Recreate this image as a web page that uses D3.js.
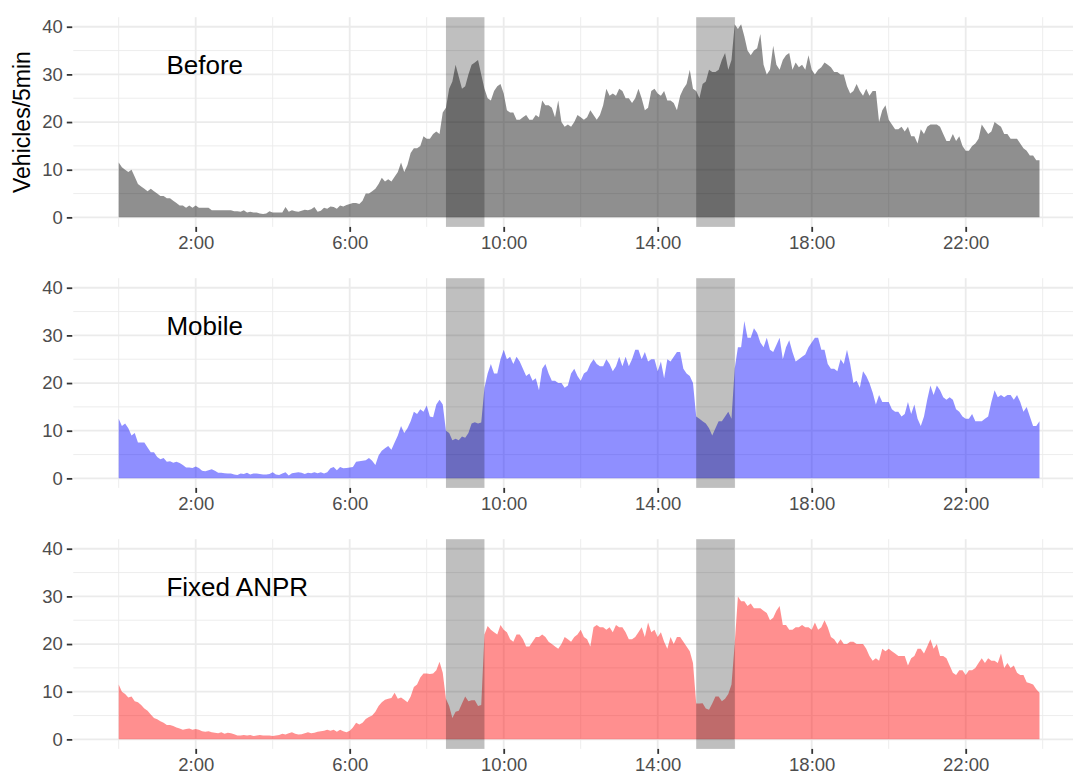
<!DOCTYPE html>
<html lang="en">
<head>
  <meta charset="UTF-8">
  <title>Vehicles per 5 minutes</title>
  <script src="https://d3js.org/d3.v7.min.js"></script>
  <style>
    body {
      margin: 0;
      padding: 0;
      background-color: #fff;
      font-family: "Liberation Sans", Arial, sans-serif;
    }
    svg { display: block; }
  </style>
</head>
<body>
  <svg width="1073" height="774"></svg>
  <script>
    // one value every 5 minutes, starting at 0:00
    const stepMinutes = 5;

    const before = [
      11.5, 10.5, 10, 9.5, 10, 8.5, 7, 6.5, 6, 5.5, 6, 5.5,
      5, 4.5, 4.5, 4, 4, 3.5, 3, 2.5, 2.5, 2, 2.5, 2,
      2.5, 2, 2, 2, 2, 1.5, 1.5, 1.5, 1.5, 1.5, 1.5, 1.5,
      1.3, 1.3, 1.2, 1.5, 1, 1.2, 1, 1, 0.8, 0.7, 0.8, 1.3,
      1, 1, 1, 1, 2.2, 1.2, 1.5, 1.3, 1.2, 1.4, 1.6, 1.5,
      1.7, 2.2, 1.2, 1.4, 2, 1.8, 2.3, 2.2, 1.8, 2.5, 2.3, 2.6,
      2.8, 3, 3, 2.8, 3.5, 5, 5, 5.5, 6, 7, 8.3, 7.5,
      8, 7.5, 8.5, 9.5, 11.5, 9.5, 11, 13.5, 14.5, 14.5, 15, 17,
      16.5, 16.5, 17.5, 18, 17.5, 22, 23, 27, 28.5, 32, 29.5, 27,
      27.5, 30, 32, 32.5, 33, 30, 27, 25, 24.5, 26.5, 27.5, 28,
      26, 22.5, 22, 22, 20.5, 20.5, 21, 21.5, 20.5, 20.5, 21.5, 21,
      24.5, 23.5, 23.5, 23, 21, 24.5, 20, 19, 19.5, 19, 20, 21.5,
      21, 20.5, 21, 22.5, 21.5, 20.5, 21.5, 23.5, 27, 25.5, 26, 25.5,
      27, 26.5, 25, 25, 24, 25, 27, 25, 22.5, 23, 26.5, 27,
      26, 25.5, 26.5, 24.5, 24.5, 24, 22.5, 25.5, 27, 28, 31, 27,
      26.5, 25, 28, 28.5, 31, 30.5, 30.5, 31, 33, 34.5, 31, 33,
      40.5, 39.5, 40.5, 38, 35, 34, 35, 35.5, 38.5, 32, 30, 31,
      36, 32, 31, 33, 34, 34.5, 31, 32.5, 31.5, 32, 31, 34,
      31, 30, 31, 31.5, 32.5, 32, 31.5, 30.5, 30.5, 30, 30, 27.5,
      26, 26.5, 28, 26.5, 25.5, 27, 25.5, 26.5, 26.5, 20, 22.5, 23.5,
      20.5, 19.5, 18.5, 18.5, 19, 18, 19, 17, 17, 15.5, 18.5, 17.5,
      19, 19.5, 19.5, 19.5, 19, 17.5, 16, 16, 17.5, 16, 17, 15,
      14, 14, 15, 15.5, 16.5, 19.5, 18.5, 17.5, 18, 20, 19.5, 19,
      17.5, 17.5, 16.5, 16.5, 16.5, 15.5, 14.5, 14, 13, 13, 12, 12
    ];

    const mobile = [
      12.5, 11, 11.5, 10.5, 9, 9.5, 7.5, 7.5, 7.5, 6.5, 5.5, 5.5,
      4.5, 4, 4.3, 3.5, 3.6, 3.3, 3.5, 3.2, 2.8, 2.3, 2.3, 2.2,
      2.5, 2.2, 1.6, 1.5, 1.7, 1.9, 1.6, 1.2, 1.2, 1.1, 1, 1,
      0.8, 0.7, 1, 0.9, 1.2, 0.8, 1, 1, 0.9, 0.8, 0.8, 0.9,
      1.3, 0.8, 0.7, 1, 1.3, 0.6, 1.1, 1.2, 1.3, 1.2, 0.9, 1.2,
      1.1, 1.3, 1.1, 1.3, 1, 1.3, 2.1, 2.4, 1.7, 2.4, 2.1, 2.2,
      2.3, 2.4, 3.5, 3.6, 3.7, 3.8, 4.3, 3.7, 2.8, 4.8, 5.8, 6.3,
      6.8, 6, 7.5, 9, 11, 9.5, 10.5, 12, 14, 13.5, 14.5, 14,
      15.3, 13, 12.8, 15.5, 16.5, 15.5, 10, 9.5, 8, 8.3, 8, 8.8,
      8.5, 9.5, 11.5, 11.8, 11.5, 11.7, 19, 22, 24, 22, 22, 25,
      27, 25, 25.5, 24, 25.5, 24.5, 23, 21.5, 22, 20.5, 21, 18.5,
      23, 24, 22, 20.5, 20.5, 20, 20, 19, 19.5, 22, 23, 21.5,
      20.5, 22, 22.5, 24, 25, 24, 23.5, 23.5, 25, 24, 22.5, 23.5,
      25.5, 23.5, 25.5, 23.5, 25, 27, 27, 25, 26.5, 24.5, 25, 25,
      22.5, 24.5, 21, 25, 24.5, 25.5, 26.5, 26.5, 23, 22, 21.5, 20,
      13, 12.5, 12, 11.5, 10.5, 9, 10.5, 12, 12, 13, 14, 12.5,
      23, 27.5, 27.5, 33, 29.5, 29.5, 31.5, 30.5, 28.5, 27.5, 29.5, 27,
      26.5, 28, 29.5, 25, 27.5, 29, 26.5, 24.5, 25, 25.5, 26, 27.5,
      28.5, 29.5, 29.5, 27, 27, 24, 23, 23, 22.5, 25, 24, 27,
      24, 20, 20.5, 19, 22.5, 21.5, 20, 18, 15.5, 17.5, 16, 16,
      16, 14.5, 14, 14, 13, 13.5, 16, 13.5, 15.5, 12.5, 11, 13,
      16.5, 19.5, 17.5, 19.5, 18.5, 17, 16.5, 17, 16.5, 14.5, 14, 13,
      12.5, 12.5, 13.5, 12, 12, 12, 12.5, 13, 16, 18.5, 17, 17.5,
      17, 17.5, 17.5, 16.5, 17.5, 16, 14, 15, 13, 11, 11, 12
    ];

    const fixedAnpr = [
      11.5, 10, 9.5, 8.8, 9, 8, 7.8, 7.2, 6.5, 6, 5.2, 4.5,
      4.2, 3.8, 3.5, 3, 3, 2.8, 2.5, 2.3, 2, 2.2, 2.3, 2,
      2.2, 2, 1.7, 1.6, 1.7, 1.5, 1.4, 1.3, 1.5, 1.2, 1.4, 1.3,
      1.1, 0.8, 0.8, 0.9, 0.8, 0.9, 0.7, 0.8, 0.9, 0.8, 0.8, 0.8,
      0.7, 0.8, 0.9, 1.2, 1, 1.3, 1.5, 1.2, 1, 1.1, 1.3, 1.5,
      1.3, 1.4, 1.6, 1.7, 1.8, 2, 1.8, 2, 1.6, 2, 1.7, 1.5,
      1.8, 2.5, 3.5, 3.1, 3.5, 4.3, 4.7, 5, 5.8, 7, 7.8, 8.3,
      8.5, 8.7, 9.8, 8.5, 8.8, 8.3, 7.8, 9, 11, 11.5, 13, 13.8,
      13.8, 13.7, 13.8, 14.5, 16.3, 14, 8.5, 7, 4.5, 5.8, 6, 7.5,
      9, 8, 8.2, 8.2, 7, 7.2, 22, 23.8, 23, 22.5, 22, 24,
      23, 22.5, 21, 20.5, 22, 22, 21, 19.5, 19.5, 20.5, 21.5, 21.5,
      22, 21.5, 20.5, 20, 19.5, 19, 20, 21.5, 21, 20.5, 21.5, 22,
      23, 21.5, 21, 19.5, 23.5, 24, 23.5, 23.5, 23, 23.5, 22.5, 24,
      23.5, 23.5, 22.5, 21, 21, 21.5, 22.5, 23.5, 21.5, 24.5, 22.5, 23,
      21.5, 22.5, 20.5, 19, 21.5, 20, 21.5, 21.5, 20.5, 19.5, 18.5, 16,
      7.5, 7.5, 7.6, 6.5, 6.2, 7.5, 9, 9, 8, 8.5, 9.5, 11.5,
      20, 30, 29, 29, 28, 28.5, 27.5, 27.5, 27.5, 27, 26.5, 25,
      25.5, 27, 28, 24, 24, 23, 23, 23.5, 23.5, 24, 23.5, 23.5,
      23, 24.5, 23, 23.5, 25, 23.5, 21.5, 21, 20, 21, 20, 20,
      20.5, 20.5, 20, 20, 20, 19, 17.5, 16.5, 17, 16.5, 19, 18.5,
      19, 18.5, 18, 17.5, 17.5, 17.5, 15.5, 17, 17.5, 19, 19, 18,
      19.5, 21, 19, 20, 17.5, 17.5, 17, 15.5, 14, 13.5, 14.5, 14.5,
      13.5, 14.5, 14.5, 15, 16, 17, 16, 17, 16.5, 16.5, 16, 18,
      15, 16, 15, 15.5, 14, 13.5, 13.5, 12, 11.8, 11.5, 10.5, 9.8
    ];

    const panelNames = ["Before", "Mobile", "Fixed ANPR"];
    const panelSeries = [before, mobile, fixedAnpr];
    const panelColors = ["#000000", "#0000ff", "#ff0000"];

    // shaded windows, in hours
    const windows = [[8.5, 9.5], [15, 16]];

    const xTickHours = [2, 6, 10, 14, 18, 22];
    const xTickLabels = ["2:00", "6:00", "10:00", "14:00", "18:00", "22:00"];
    const xMinorHours = [0, 4, 8, 12, 16, 20, 24];
    const yTicks = [0, 10, 20, 30, 40];
    const yMinor = [5, 15, 25, 35];

    const panelLeft = 73.3;
    const panelRight = 1086;
    const panelHeight = 209.7;
    const panelTops = [17.2, 278.2, 539.2];

    const svg = d3.select("svg");

    const x = d3.scaleLinear().domain([0, 24]).range([118.7, 1042.7]);

    panelSeries.forEach((series, i) => {
      const top = panelTops[i];
      const bottom = top + panelHeight;
      const y = d3.scaleLinear().domain([-2, 42]).range([bottom, top]);
      const data = series.map((v, k) => ({ t: k * stepMinutes / 60, v }));

      const g = svg.append("g");

      // minor grid
      g.selectAll(".hminor").data(yMinor).enter().append("line")
        .attr("x1", panelLeft).attr("x2", panelRight)
        .attr("y1", d => y(d)).attr("y2", d => y(d))
        .attr("stroke", "#ebebeb").attr("stroke-width", 0.9);
      g.selectAll(".vminor").data(xMinorHours).enter().append("line")
        .attr("x1", d => x(d)).attr("x2", d => x(d))
        .attr("y1", top).attr("y2", bottom)
        .attr("stroke", "#ebebeb").attr("stroke-width", 0.9);

      // major grid
      g.selectAll(".hmajor").data(yTicks).enter().append("line")
        .attr("x1", panelLeft).attr("x2", panelRight)
        .attr("y1", d => y(d)).attr("y2", d => y(d))
        .attr("stroke", "#ebebeb").attr("stroke-width", 1.8);
      g.selectAll(".vmajor").data(xTickHours).enter().append("line")
        .attr("x1", d => x(d)).attr("x2", d => x(d))
        .attr("y1", top).attr("y2", bottom)
        .attr("stroke", "#ebebeb").attr("stroke-width", 1.8);

      const area = d3.area()
        .x(d => x(d.t))
        .y0(y(0))
        .y1(d => y(d.v));

      g.append("path")
        .datum(data)
        .attr("d", area)
        .attr("fill", panelColors[i])
        .attr("fill-opacity", 0.44);

      g.selectAll(".window").data(windows).enter().append("rect")
        .attr("x", d => x(d[0]))
        .attr("width", d => x(d[1]) - x(d[0]))
        .attr("y", top)
        .attr("height", panelHeight)
        .attr("fill", "#000")
        .attr("fill-opacity", 0.25);

      g.append("text")
        .attr("x", x(1.24))
        .attr("y", y(32))
        .attr("dy", "0.36em")
        .attr("font-size", 26)
        .attr("fill", "#000")
        .text(panelNames[i]);

      // axes
      const xAxis = d3.axisBottom(x)
        .tickValues(xTickHours)
        .tickFormat((d, k) => xTickLabels[k])
        .tickSize(5)
        .tickPadding(4);
      const xa = svg.append("g")
        .attr("transform", `translate(0,${bottom})`)
        .call(xAxis);

      const yAxis = d3.axisLeft(y)
        .tickValues(yTicks)
        .tickSize(5.5)
        .tickPadding(4);
      const ya = svg.append("g")
        .attr("transform", `translate(72.3,0)`)
        .call(yAxis);

      [xa, ya].forEach(a => {
        a.select(".domain").remove();
        a.selectAll(".tick line").attr("stroke", "#333333").attr("stroke-width", 1.8);
        a.selectAll(".tick text")
          .attr("fill", "#4d4d4d")
          .attr("font-size", 18.5)
          .attr("font-family", "'Liberation Sans', Arial, sans-serif");
      });

      if (i === 0) {
        svg.append("text")
          .attr("transform", `translate(22,${(top + bottom) / 2}) rotate(-90)`)
          .attr("text-anchor", "middle")
          .attr("dy", "0.36em")
          .attr("font-size", 23)
          .attr("fill", "#000")
          .text("Vehicles/5min");
      }
    });
  </script>
</body>
</html>
